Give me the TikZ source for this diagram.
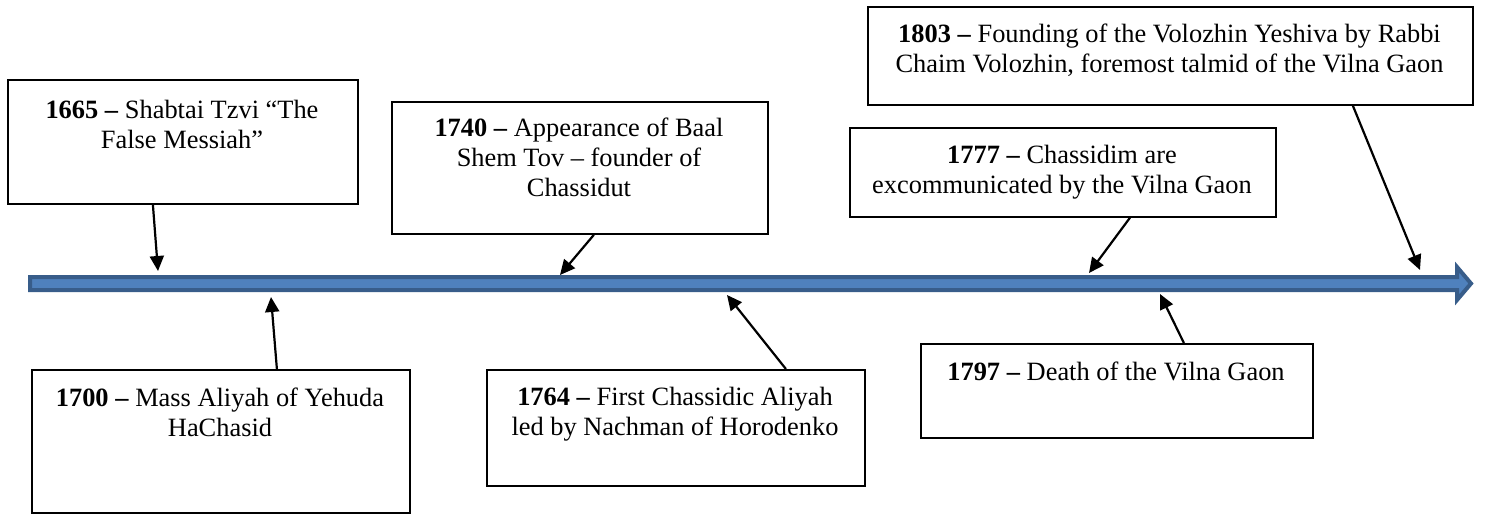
\documentclass[tikz,border=0pt]{standalone}
\usepackage{fontspec}
\setmainfont{Liberation Serif}
\usetikzlibrary{arrows.meta}
\definecolor{lineblue}{HTML}{4F81BD}
\definecolor{lineborder}{HTML}{385D8A}
\tikzset{
  eventbox/.style={draw, line width=1.8pt, anchor=north west, inner sep=0pt},
  eventtext/.style={anchor=north, align=center, inner sep=0pt, font=\fontsize{26.4}{30}\selectfont},
  pointer/.style={line width=2.2pt, -{Triangle[length=15pt,width=14pt]}}
}
\begin{document}
\begin{tikzpicture}[x=1pt,y=-1pt]
    \useasboundingbox (0,0) rectangle (1485,516);
    % the time line
    \draw[fill=lineblue, draw=lineborder, line width=4pt, miter limit=10]
        (30,277) -- (1457,277) -- (1457,267) -- (1471,283.5) -- (1457,300) -- (1457,290) -- (30,290) -- cycle;
    \coordinate (t1665) at (158,271);
    \coordinate (t1700) at (271,297);
    \coordinate (t1740) at (560,275);
    \coordinate (t1764) at (727,295);
    \coordinate (t1777) at (1089,273);
    \coordinate (t1797) at (1160,294);
    \coordinate (t1803) at (1420,270);
    % boxes above
    \node [eventbox,minimum width=350pt,minimum height=124pt] (b1665) at (7,79) {};
    \node [eventtext] (l1665) at (182,100) {\textbf{1665 –} Shabtai Tzvi “The\\False Messiah”};
    \node [eventbox,minimum width=376pt,minimum height=132pt] (b1740) at (391,101) {};
    \node [eventtext] (l1740) at (579,118) {\textbf{1740 –} Appearance of Baal\\Shem Tov – founder of\\Chassidut};
    \node [eventbox,minimum width=426pt,minimum height=89pt] (b1777) at (849,127) {};
    \node [eventtext] (l1777) at (1062,145) {\textbf{1777 –} Chassidim are\\excommunicated by the Vilna Gaon};
    \node [eventbox,minimum width=605pt,minimum height=98pt] (b1803) at (867,6) {};
    \node [eventtext] (l1803) at (1169.5,24) {\textbf{1803 –} Founding of the Volozhin Yeshiva by Rabbi\\Chaim Volozhin, foremost talmid of the Vilna Gaon};
    % boxes below
    \node [eventbox,minimum width=378pt,minimum height=143pt] (b1700) at (31,369) {};
    \node [eventtext] (l1700) at (220,388) {\textbf{1700 –} Mass Aliyah of Yehuda\\HaChasid};
    \node [eventbox,minimum width=378pt,minimum height=116pt] (b1764) at (486,369) {};
    \node [eventtext] (l1764) at (675,387) {\textbf{1764 –} First Chassidic Aliyah\\led by Nachman of Horodenko};
    \node [eventbox,minimum width=392pt,minimum height=94pt] (b1797) at (920,343) {};
    \node [eventtext] (l1797) at (1116,362) {\textbf{1797 –} Death of the Vilna Gaon};
    % pointers
    \draw [pointer] ([xshift=-30pt]b1665.south) -- (t1665);
    \draw [pointer] ([xshift=14pt]b1740.south) -- (t1740);
    \draw [pointer] ([xshift=67pt]b1777.south) -- (t1777);
    \draw [pointer] ([xshift=182.5pt]b1803.south) -- (t1803);
    \draw [pointer] ([xshift=56pt]b1700.north) -- (t1700);
    \draw [pointer] ([xshift=110pt]b1764.north) -- (t1764);
    \draw [pointer] ([xshift=67pt]b1797.north) -- (t1797);
\end{tikzpicture}
\end{document}
